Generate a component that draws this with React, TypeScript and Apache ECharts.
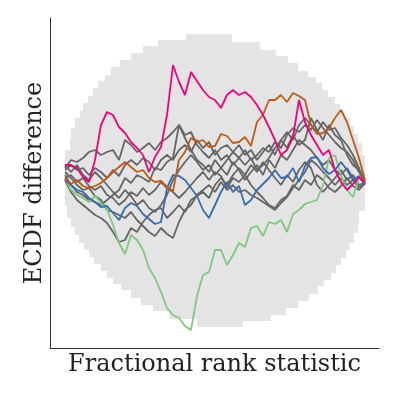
import React, { useEffect, useRef } from "react";
import * as echarts from "echarts";

// Fractional rank grid shared by all curves
const ranks = [0,0.02,0.04,0.06,0.08,0.1,0.12,0.14,0.16,0.18,0.2,0.22,0.24,0.26,0.28,0.3,0.32,0.34,0.36,0.38,0.4,0.42,0.44,0.46,0.48,0.5,0.52,0.54,0.56,0.58,0.6,0.62,0.64,0.66,0.68,0.7,0.72,0.74,0.76,0.78,0.8,0.82,0.84,0.86,0.88,0.9,0.92,0.94,0.96,0.98,1];

// ECDF difference (x1000)
const pinkDiff = [15,15,12,3,-2,20,55,68,65,53,47,38,32,25,8,23,33,65,115,98,85,108,99,90,83,80,72,85,90,85,88,83,75,65,53,40,25,30,43,80,58,45,35,25,30,10,-2,-10,-4,3,-3];
const orangeDiff = [2,-4,0,-6,-8,-6,-3,2,8,13,18,13,8,10,2,-2,-1,-7,-11,20,28,42,38,40,33,34,46,44,37,38,43,34,58,65,80,80,85,78,87,84,80,55,46,47,52,62,70,58,40,22,0];
const blueDiff = [0,-5,-10,-12,-18,-22,-27,-26,-33,-40,-28,-23,-26,-34,-39,-44,-42,-8,5,4,0,-8,-16,-30,-38,-25,-12,-2,-12,-6,-25,-20,-10,-4,2,10,2,3,12,-2,14,22,23,12,6,10,18,10,0,4,-5];
const greenDiff = [2,-10,-15,-18,-22,-16,-23,-29,-45,-63,-74,-55,-60,-70,-88,-98,-112,-128,-135,-138,-146,-150,-116,-95,-92,-70,-70,-85,-75,-63,-67,-48,-46,-56,-42,-44,-40,-52,-34,-30,-24,-22,-20,-5,22,25,5,-10,-17,2,-3];
const gray1Diff = [12,20,18,22,28,30,25,28,30,20,40,35,28,32,37,30,38,42,48,55,45,48,35,28,22,30,20,25,15,22,30,20,25,32,28,38,32,45,52,48,55,50,60,52,45,38,32,28,20,8,-2];
const gray2Diff = [5,-5,-12,-15,-20,-22,-25,-20,-15,-10,2,-3,5,2,-2,12,10,18,22,55,42,30,20,15,8,20,12,5,18,10,0,8,15,5,20,12,25,20,30,40,35,30,22,15,20,10,5,12,2,-5,-3];
const gray3Diff = [0,-12,-20,-25,-30,-35,-38,-43,-52,-62,-60,-48,-52,-42,-35,-30,-28,-38,-32,-25,-32,-20,-16,-12,-18,-5,2,-5,5,12,5,15,8,18,10,2,-5,5,-2,10,18,12,-5,-12,-5,2,10,0,5,-5,-3];
const gray4Diff = [8,2,-5,-10,-8,-16,-20,-30,-32,-35,-38,-32,-40,-46,-52,-56,-48,-54,-58,-42,-30,-25,-15,-10,-5,-12,-2,-10,-5,-12,-10,-15,-18,-22,-26,-30,-23,-17,-8,0,8,20,15,8,2,-5,2,-5,0,-8,-3];
const gray5Diff = [15,8,15,5,0,8,2,-5,-12,-18,-10,-16,-25,-20,-28,-32,-25,-15,0,10,18,25,18,10,15,5,12,20,28,22,15,22,10,15,22,32,40,48,40,55,62,55,48,58,50,52,42,35,25,12,-2];
const gray6Diff = [2,5,-2,2,-6,-10,-6,-15,-18,-25,-20,-12,-16,-8,-15,-10,-2,-8,-12,-18,-12,-5,2,8,0,8,4,-8,2,-2,5,-5,-12,-18,-25,-28,-20,-16,-5,-10,0,-5,5,0,-8,-12,-6,2,-6,-10,-3];
const gray7Diff = [10,15,10,12,5,12,8,2,10,4,15,20,15,22,18,10,20,25,20,30,35,28,40,32,38,25,32,35,28,35,25,30,20,28,35,25,40,32,45,35,40,62,50,40,55,45,40,25,15,10,-2];

// Simultaneous confidence envelope (step starts)
const upperX = [0,0.017,0.02,0.033,0.05,0.06,0.077,0.093,0.11,0.133,0.153,0.183,0.22,0.26,0.31,0.403,0.557,0.65,0.703,0.743,0.777,0.81,0.837,0.857,0.877,0.9,0.917,0.933,0.95,0.963,0.977,0.99];
const upperY = [30,42,52,62,69,77,84,92,99,105,113,120,127,134,140,146,138,130,124,117,109,103,97,90,83,76,69,62,54,46,37,25];
const lowerX = [0,0.007,0.02,0.033,0.047,0.063,0.08,0.097,0.12,0.14,0.16,0.187,0.22,0.253,0.293,0.347,0.44,0.593,0.687,0.737,0.777,0.813,0.843,0.863,0.887,0.903,0.92,0.937,0.947,0.963,0.977,0.98];
const lowerY = [-26,-38,-47,-55,-63,-70,-77,-84,-91,-98,-104,-110,-118,-125,-131,-139,-147,-141,-135,-128,-121,-114,-106,-100,-93,-85,-78,-70,-63,-53,-43,-31];

const GRAY = "#666666";
const curves: { name: string; values: number[]; color: string }[] = [
  { name: "gray1", values: gray1Diff, color: GRAY },
  { name: "gray2", values: gray2Diff, color: GRAY },
  { name: "gray3", values: gray3Diff, color: GRAY },
  { name: "gray4", values: gray4Diff, color: GRAY },
  { name: "gray5", values: gray5Diff, color: GRAY },
  { name: "gray6", values: gray6Diff, color: GRAY },
  { name: "gray7", values: gray7Diff, color: GRAY },
  { name: "green", values: greenDiff, color: "#7fc97f" },
  { name: "blue", values: blueDiff, color: "#386cb0" },
  { name: "orange", values: orangeDiff, color: "#bf5b17" },
  { name: "pink", values: pinkDiff, color: "#f0027f" },
];

export default function App() {
  const ref = useRef<HTMLDivElement>(null);
  useEffect(() => {
    if (!ref.current) return;
    const chart = echarts.init(ref.current, null, { renderer: "svg" });
    const envelope = {
      type: "custom",
      silent: true,
      clip: false,
      z: 1,
      data: [[0, 0]],
      renderItem: (_params: any, api: any) => {
        const pts: number[][] = [];
        for (let i = 0; i < upperX.length; i++) {
          const xn = i + 1 < upperX.length ? upperX[i + 1] : 1;
          pts.push(api.coord([upperX[i], upperY[i]]));
          pts.push(api.coord([xn, upperY[i]]));
        }
        for (let i = lowerX.length - 1; i >= 0; i--) {
          const xn = i + 1 < lowerX.length ? lowerX[i + 1] : 1;
          pts.push(api.coord([xn, lowerY[i]]));
          pts.push(api.coord([lowerX[i], lowerY[i]]));
        }
        return { type: "polygon", shape: { points: pts }, style: { fill: "#e4e4e4" } };
      },
    };
    const lines = curves.map((c) => ({
      type: "line",
      name: c.name,
      data: ranks.map((r, i) => [r, c.values[i]]),
      showSymbol: false,
      symbol: "none",
      z: 2,
      lineStyle: { color: c.color, width: 1.8 },
      silent: true,
    }));
    const nameFont = {
      fontFamily: "'DejaVu Serif', serif",
      fontSize: 24,
      color: "#222",
    };
    chart.setOption({
      animation: false,
      grid: { left: 50, top: 18, width: 329, height: 330, containLabel: false },
      xAxis: {
        type: "value",
        min: -0.05,
        max: 1.0467,
        name: "Fractional rank statistic",
        nameLocation: "middle",
        nameGap: 3,
        nameTextStyle: nameFont,
        axisLine: { show: true, onZero: false, lineStyle: { color: "#333", width: 1 } },
        axisTick: { show: false },
        axisLabel: { show: false },
        splitLine: { show: false },
      },
      yAxis: {
        type: "value",
        min: -168,
        max: 162,
        name: "ECDF difference",
        nameLocation: "middle",
        nameGap: 5,
        nameTextStyle: nameFont,
        axisLine: { show: true, onZero: false, lineStyle: { color: "#333", width: 1 } },
        axisTick: { show: false },
        axisLabel: { show: false },
        splitLine: { show: false },
      },
      series: [envelope, ...lines],
    });
    return () => chart.dispose();
  }, []);
  return (
    <div
      ref={ref}
      style={{ position: "fixed", left: 0, top: 0, width: 399, height: 399 }}
    />
  );
}
